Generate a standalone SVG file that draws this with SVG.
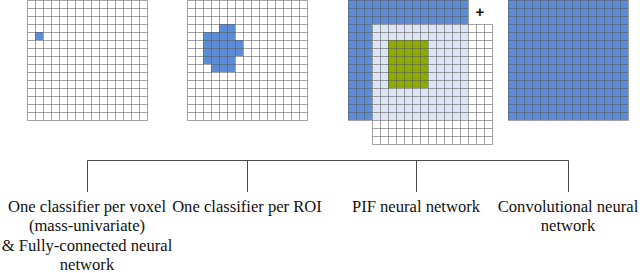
<svg xmlns="http://www.w3.org/2000/svg" xmlns:xlink="http://www.w3.org/1999/xlink" width="640" height="273" viewBox="0 0 640 273">
  <style>
    .bg { fill: #ffffff; }
    .blue { fill: #5b8cd7; }
    .light { fill: #dce6f5; }
    .green { fill: #8caa00; }
    .grid { fill: none; stroke: #5a5a5a; stroke-opacity: 0.55; stroke-width: 1; }
    .conn { fill: none; stroke: #4a4a4a; stroke-width: 1; }
    .label { font-family: "Liberation Serif", "Times New Roman", serif; font-size: 16.6px; fill: #111111; text-anchor: middle; }
    .plus { font-family: "Liberation Sans", Arial, sans-serif; font-size: 15px; font-weight: bold; fill: #111111; text-anchor: middle; }
  </style>
  <defs>
    <path id="gridlines" d="M0 0H120M0 8H120M0 16H120M0 24H120M0 32H120M0 40H120M0 48H120M0 56H120M0 64H120M0 72H120M0 80H120M0 88H120M0 96H120M0 104H120M0 112H120M0 120H120M0 0V120M8 0V120M16 0V120M24 0V120M32 0V120M40 0V120M48 0V120M56 0V120M64 0V120M72 0V120M80 0V120M88 0V120M96 0V120M104 0V120M112 0V120M120 0V120"/>
  </defs>
  <rect class="bg" x="0" y="0" width="640" height="273"/>

  <g id="grid-voxel">
    <rect class="bg" x="27" y="0" width="120" height="120"/>
    <rect class="blue" x="35" y="32" width="8" height="8"/>
    <use xlink:href="#gridlines" href="#gridlines" class="grid" transform="translate(27.5,0.5)"/>
  </g>

  <g id="grid-roi">
    <rect class="bg" x="187" y="0" width="120" height="120"/>
    <rect class="blue" x="219" y="24" width="16" height="8"/>
    <rect class="blue" x="203" y="32" width="32" height="8"/>
    <rect class="blue" x="203" y="40" width="40" height="16"/>
    <rect class="blue" x="203" y="56" width="32" height="8"/>
    <rect class="blue" x="211" y="64" width="24" height="8"/>
    <use xlink:href="#gridlines" href="#gridlines" class="grid" transform="translate(187.5,0.5)"/>
  </g>

  <g id="grid-pif">
    <rect class="blue" x="348" y="0" width="120" height="120"/>
    <use xlink:href="#gridlines" href="#gridlines" class="grid" transform="translate(348.5,0.5)"/>
    <rect class="bg" x="372" y="24" width="120" height="120"/>
    <rect class="light" x="372" y="24" width="96" height="96"/>
    <rect class="green" x="388" y="40" width="40" height="48"/>
    <use xlink:href="#gridlines" href="#gridlines" class="grid" transform="translate(372.5,24.5)"/>
    <text class="plus" x="480" y="17">+</text>
  </g>

  <g id="grid-cnn">
    <rect class="blue" x="508" y="0" width="120" height="120"/>
    <use xlink:href="#gridlines" href="#gridlines" class="grid" transform="translate(508.5,0.5)"/>
  </g>

  <g id="connectors">
    <path class="conn" d="M87.5 160.5H568.5M87.5 160.5V192M247.5 160.5V192M416.5 160.5V192M568.5 160.5V192"/>
  </g>

  <g id="label-voxel">
    <text class="label" x="87" y="211.5">One classifier per voxel</text>
    <text class="label" x="87" y="231">(mass-univariate)</text>
    <text class="label" x="87" y="250.5">&amp; Fully-connected neural</text>
    <text class="label" x="87" y="269.5">network</text>
  </g>
  <g id="label-roi">
    <text class="label" x="247" y="211.5">One classifier per ROI</text>
  </g>
  <g id="label-pif">
    <text class="label" x="416" y="211.5">PIF neural network</text>
  </g>
  <g id="label-cnn">
    <text class="label" x="568" y="211.5">Convolutional neural</text>
    <text class="label" x="568" y="231">network</text>
  </g>
</svg>
